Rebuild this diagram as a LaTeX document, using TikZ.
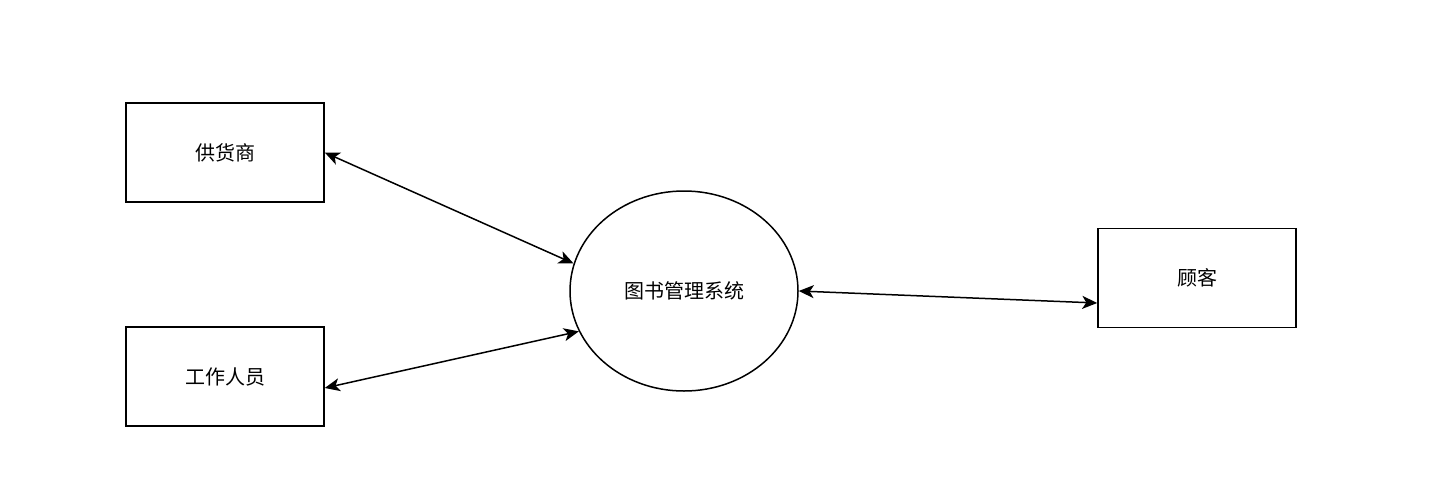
\documentclass[tikz,border=0pt]{standalone}
\usepackage{fontspec}
\setmainfont{Noto Sans CJK SC}
\usetikzlibrary{shapes.geometric,arrows.meta}
\begin{document}
\begin{tikzpicture}[x=1pt,y=1pt,
  ent/.style={draw,line width=1.5pt,minimum width=198pt,minimum height=99pt,inner sep=0pt,font=\fontsize{20}{22}\selectfont},
  proc/.style={draw,ellipse,line width=1.5pt,minimum width=228pt,minimum height=200pt,inner sep=0pt,font=\fontsize{20}{22}\selectfont},
  link/.style={line width=1.5pt,{Stealth[length=15pt,width=13pt,inset=4pt]}-{Stealth[length=15pt,width=13pt,inset=4pt]}}]
\useasboundingbox (0,0) rectangle (1442,-493);
\node[ent] (sup) at (225,-152.5) {供货商};
\node[ent] (staff) at (225,-376.5) {工作人员};
\node[ent] (cus) at (1197,-278) {顾客};
\node[proc] (sys) at (684,-291) {图书管理系统};
\draw[link] (sup.east) -- (sys.166);
\draw[link] ([yshift=-11.5pt]staff.east) -- (sys.201);
\draw[link] (sys.0) -- ([yshift=-25pt]cus.west);
\end{tikzpicture}
\end{document}
